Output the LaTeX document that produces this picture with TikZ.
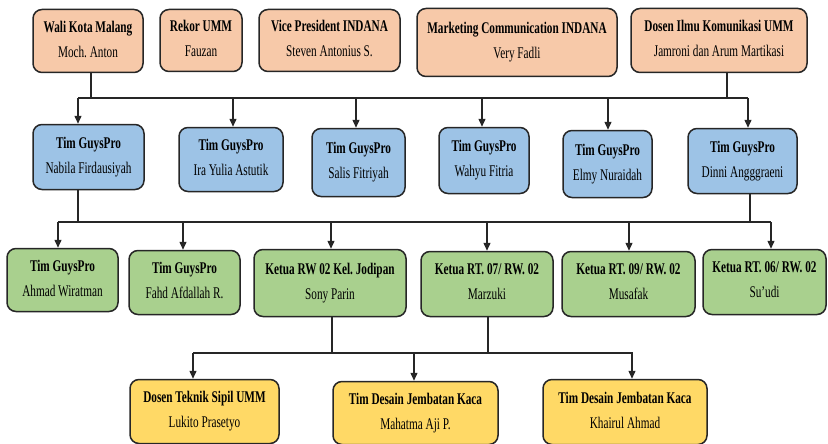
\documentclass[tikz,border=0pt]{standalone}
\usepackage{fontspec}
\setmainfont{Liberation Serif}[FakeStretch=0.69]
\usetikzlibrary{arrows.meta}
\frenchspacing
\definecolor{borange}{HTML}{F7C9A9}
\definecolor{bblue}{HTML}{9DC3E6}
\definecolor{bgreen}{HTML}{A9D08E}
\definecolor{byellow}{HTML}{FFD966}
\definecolor{edge}{HTML}{262626}
\tikzset{
  box/.style={draw=edge, line width=1.5pt, rounded corners=9pt, inner sep=0pt,
    align=center, font=\fontsize{16.3}{25}\selectfont\frenchspacing},
  obox/.style={box, fill=borange},
  ubox/.style={box, fill=bblue},
  gbox/.style={box, fill=bgreen},
  ybox/.style={box, fill=byellow},
  wire/.style={draw=edge, line width=1.4pt},
  arr/.style={wire, -{Triangle[length=8pt,width=7pt]}},
}
\newcommand{\bx}[8]{% style,name,x1,x2,y1,y2,title,person
  \node[#1, minimum width={(#4-#3)*1pt}, minimum height={(#6-#5)*1pt}]
    (#2) at ({(#3+#4)/2},{(#5+#6)/2+1.5}) {\textbf{#7}\\#8\rule[-4pt]{0pt}{4pt}};}
\begin{document}
\begin{tikzpicture}[x=1pt,y=-1pt]
\useasboundingbox (0,0) rectangle (828,444);
% top row
\bx{obox}{wali}{33}{143}{8}{71}{Wali Kota Malang}{Moch. Anton}
\bx{obox}{rekor}{160}{242}{8}{70}{Rekor UMM}{Fauzan}
\bx{obox}{vp}{259}{400}{8}{70}{Vice President INDANA}{Steven Antonius S.}
\bx{obox}{mkt}{417}{617}{7}{75}{Marketing Communication INDANA}{Very Fadli}
\bx{obox}{dosen}{631}{807}{7}{71}{Dosen Ilmu Komunikasi UMM}{Jamroni dan Arum Martikasi}
% blue row
\bx{ubox}{nabila}{33}{144}{123}{188}{Tim GuysPro}{Nabila Firdausiyah}
\bx{ubox}{ira}{179}{283}{126}{190}{Tim GuysPro}{Ira Yulia Astutik}
\bx{ubox}{salis}{312}{405}{127}{195}{Tim GuysPro}{Salis Fitriyah}
\bx{ubox}{wahyu}{439}{529}{126}{192}{Tim GuysPro}{Wahyu Fitria}
\bx{ubox}{elmy}{563}{652}{129}{196}{Tim GuysPro}{Elmy Nuraidah}
\bx{ubox}{dinni}{688}{797}{127}{192}{Tim GuysPro}{Dinni Angggraeni}
% green row
\bx{gbox}{ahmad}{7}{118}{247}{310}{Tim GuysPro}{Ahmad Wiratman}
\bx{gbox}{fahd}{129}{240}{249}{313}{Tim GuysPro}{Fahd Afdallah R.}
\bx{gbox}{rw}{254}{406}{248}{315}{Ketua RW 02 Kel. Jodipan}{Sony Parin}
\bx{gbox}{marzuki}{421}{553}{250}{315}{Ketua RT. 07/ RW. 02}{Marzuki}
\bx{gbox}{musafak}{562}{695}{250}{315}{Ketua RT. 09/ RW. 02}{Musafak}
\bx{gbox}{suudi}{703}{826}{248}{313}{Ketua RT. 06/ RW. 02}{Su'udi}
% yellow row
\bx{ybox}{dtek}{130}{279}{378}{442}{Dosen Teknik Sipil UMM}{Lukito Prasetyo}
\bx{ybox}{mahatma}{333}{498}{380}{443}{Tim Desain Jembatan Kaca}{Mahatma Aji P.}
\bx{ybox}{khairul}{543}{707}{378}{443}{Tim Desain Jembatan Kaca}{Khairul Ahmad}
% bus 1
\coordinate (j1a) at (91,98);
\coordinate (j1b) at (727,98);
\coordinate (b1L) at (78,98);
\coordinate (b1R) at (748,98);
\draw[wire] (wali.south -| j1a) -- (j1a);
\draw[wire] (dosen.south -| j1b) -- (j1b);
\draw[wire] (b1L) -- (b1R);
\foreach \xx/\nn in {78/nabila,233/ira,356/salis,482/wahyu,608/elmy,748/dinni}{
  \coordinate (t\nn) at (\xx,98);
  \draw[arr] (t\nn) -- (t\nn |- \nn.north);
}
% bus 2
\coordinate (j2a) at (78,222);
\coordinate (j2b) at (750,222);
\coordinate (b2L) at (58,222);
\coordinate (b2R) at (771,222);
\draw[wire] (nabila.south -| j2a) -- (j2a);
\draw[wire] (dinni.south -| j2b) -- (j2b);
\draw[wire] (b2L) -- (b2R);
\foreach \xx/\nn in {58/ahmad,183/fahd,331/rw,487/marzuki,629/musafak,771/suudi}{
  \coordinate (t\nn) at (\xx,222);
  \draw[arr] (t\nn) -- (t\nn |- \nn.north);
}
% bus 3
\coordinate (j3a) at (332,353);
\coordinate (j3b) at (488,353);
\coordinate (b3L) at (193,353);
\coordinate (b3R) at (633,353);
\draw[wire] (rw.south -| j3a) -- (j3a);
\draw[wire] (marzuki.south -| j3b) -- (j3b);
\draw[wire] (b3L) -- (b3R);
\foreach \xx/\nn in {193/dtek,414/mahatma,632/khairul}{
  \coordinate (t\nn) at (\xx,353);
  \draw[arr] (t\nn) -- (t\nn |- \nn.north);
}
\end{tikzpicture}
\end{document}
